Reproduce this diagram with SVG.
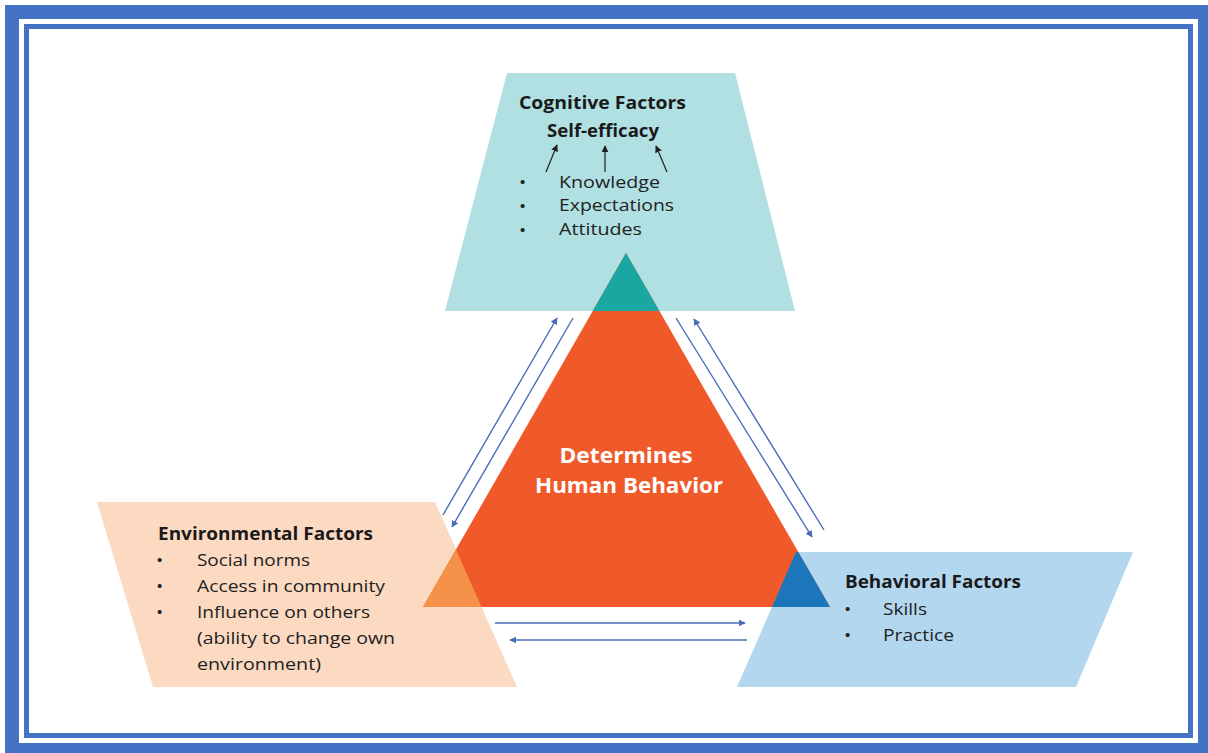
<svg xmlns="http://www.w3.org/2000/svg" width="1208" height="753" viewBox="0 0 1208 753">
  <defs>
    <marker id="headBlue" viewBox="0 0 10 10" refX="9" refY="5" markerWidth="7" markerHeight="7" markerUnits="userSpaceOnUse" orient="auto">
      <path d="M0,0 L10,5 L0,10 z" fill="#4a6cb5"/>
    </marker>
    <marker id="headBlack" viewBox="0 0 10 10" refX="9" refY="5" markerWidth="7" markerHeight="7" markerUnits="userSpaceOnUse" orient="auto">
      <path d="M0,0 L10,5 L0,10 z" fill="#1f1f1f"/>
    </marker>
    <style>
      .title { font-family: "Open Sans", "Noto Sans", "Liberation Sans", sans-serif; font-weight: 700; font-size: 17px; fill: #1a1a1a; }
      .item { font-family: "Open Sans", "Noto Sans", "Liberation Sans", sans-serif; font-weight: 400; font-size: 17px; fill: #222222; }
      .dot { font-family: "Liberation Sans", sans-serif; font-size: 15px; fill: #222222; }
      .centre { font-family: "Open Sans", "Noto Sans", "Liberation Sans", sans-serif; font-weight: 700; font-size: 22px; fill: #ffffff; }
      .link { fill: none; stroke: #4a6cb5; stroke-width: 1.4; marker-end: url(#headBlue); }
      .mini { fill: none; stroke: #1f1f1f; stroke-width: 1.2; marker-end: url(#headBlack); }
    </style>
  </defs>

  <!-- double frame -->
  <g id="frame">
    <rect x="5" y="5" width="1203" height="748" fill="#4472c4"/>
    <rect x="19" y="19" width="1179" height="724" fill="#ffffff"/>
    <rect x="24" y="24" width="1169" height="714" fill="#4472c4"/>
    <rect x="29" y="29" width="1159" height="704" fill="#ffffff"/>
  </g>

  <!-- cognitive block -->
  <g id="cognitive">
    <polygon points="507,73 735,73 795,311 445,311" fill="#b1e0e3"/>
    <text class="title" x="519" y="109" textLength="167" lengthAdjust="spacingAndGlyphs">Cognitive Factors</text>
    <text class="title" x="547" y="137" textLength="112" lengthAdjust="spacingAndGlyphs">Self-efficacy</text>
    <line class="mini" x1="546" y1="172" x2="557" y2="145"/>
    <line class="mini" x1="605" y1="172" x2="605" y2="146"/>
    <line class="mini" x1="667" y1="172" x2="656" y2="146"/>
    <text class="dot" x="520" y="187">•</text>
    <text class="dot" x="520" y="211">•</text>
    <text class="dot" x="520" y="235">•</text>
    <text class="item" x="559" y="188" textLength="101" lengthAdjust="spacingAndGlyphs">Knowledge</text>
    <text class="item" x="559" y="211" textLength="115" lengthAdjust="spacingAndGlyphs">Expectations</text>
    <text class="item" x="559" y="235" textLength="83" lengthAdjust="spacingAndGlyphs">Attitudes</text>
  </g>

  <!-- environmental block -->
  <g id="environmental">
    <polygon points="97,502 435,502 517,687 153,687" fill="#fcd9c1"/>
    <text class="title" x="158" y="540" textLength="215" lengthAdjust="spacingAndGlyphs">Environmental Factors</text>
    <text class="dot" x="157" y="565">•</text>
    <text class="dot" x="157" y="591">•</text>
    <text class="dot" x="157" y="617">•</text>
    <text class="item" x="197" y="566" textLength="113" lengthAdjust="spacingAndGlyphs">Social norms</text>
    <text class="item" x="197" y="592" textLength="188" lengthAdjust="spacingAndGlyphs">Access in community</text>
    <text class="item" x="197" y="618" textLength="173" lengthAdjust="spacingAndGlyphs">Influence on others</text>
    <text class="item" x="197" y="644" textLength="198" lengthAdjust="spacingAndGlyphs">(ability to change own</text>
    <text class="item" x="197" y="670" textLength="124" lengthAdjust="spacingAndGlyphs">environment)</text>
  </g>

  <!-- behavioral block -->
  <g id="behavioral">
    <polygon points="796,552 1133,552 1076,687 737,687" fill="#b3d7ef"/>
    <text class="title" x="845" y="588" textLength="176" lengthAdjust="spacingAndGlyphs">Behavioral Factors</text>
    <text class="dot" x="845" y="614">•</text>
    <text class="dot" x="845" y="640">•</text>
    <text class="item" x="883" y="615" textLength="44" lengthAdjust="spacingAndGlyphs">Skills</text>
    <text class="item" x="883" y="641" textLength="71" lengthAdjust="spacingAndGlyphs">Practice</text>
  </g>

  <!-- central triangle with the tinted overlaps -->
  <g id="behavior-core">
    <polygon points="626,253 830,607 423,607" fill="#f05a2a"/>
    <polygon points="626,253 659.4,311 592.7,311" fill="#1aa6a1"/>
    <polygon points="423,607 456,549.5 481.5,607" fill="#f59149"/>
    <polygon points="796,552 798.3,552 830,607 772,607" fill="#1b76bc"/>
    <text class="centre" x="626" y="463" text-anchor="middle" textLength="133" lengthAdjust="spacingAndGlyphs">Determines</text>
    <text class="centre" x="629" y="493" text-anchor="middle" textLength="188" lengthAdjust="spacingAndGlyphs">Human Behavior</text>
  </g>

  <!-- two-way links between the factor blocks -->
  <g id="connectors">
    <line class="link" x1="443" y1="515" x2="557" y2="318"/>
    <line class="link" x1="573" y1="318" x2="452" y2="527"/>
    <line class="link" x1="676" y1="318" x2="812" y2="537"/>
    <line class="link" x1="824" y1="530" x2="694" y2="319"/>
    <line class="link" x1="495" y1="623" x2="745" y2="623"/>
    <line class="link" x1="747" y1="640" x2="510" y2="640"/>
  </g>
</svg>
